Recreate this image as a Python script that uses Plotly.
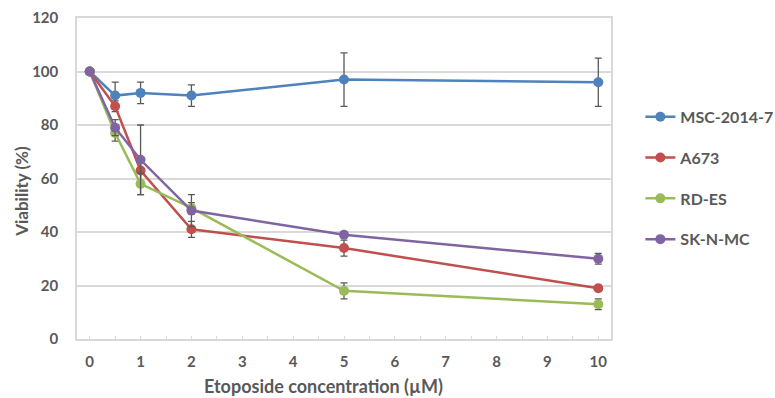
import plotly.graph_objects as go

# Etoposide dose (µM) and viability readings per cell line
conc = [0, 0.5, 1, 2, 5, 10]

cell_lines = ["MSC-2014-7", "A673", "RD-ES", "SK-N-MC"]
viability = {
    "MSC-2014-7": [100, 91, 92, 91, 97, 96],
    "A673":       [100, 87, 63, 41, 34, 19],
    "RD-ES":      [100, 77, 58, 49, 18, 13],
    "SK-N-MC":    [100, 79, 67, 48, 39, 30],
}
error = {
    "MSC-2014-7": [0, 5, 4, 4, 10, 9],
    "A673":       [0, 2, 4, 3, 3, 1],
    "RD-ES":      [0, 3, 4, 2, 3, 2],
    "SK-N-MC":    [0, 3, 13, 6, 1, 2],
}
colors = {
    "MSC-2014-7": "#4F81BD",
    "A673": "#C0504D",
    "RD-ES": "#9BBB59",
    "SK-N-MC": "#8064A2",
}

x_tickvals = [v / 2 for v in range(0, 21)]
x_ticktext = [str(int(v)) if v == int(v) else "" for v in x_tickvals]
y_tickvals = [0, 20, 40, 60, 80, 100, 120]

x_title = "Etoposide concentration (µM)"
y_title = "Viability (%)"

FONT = "Lato"
TXT = "#595959"
GRID = "#D9D9D9"

fig = go.Figure()
for name in cell_lines:
    fig.add_trace(go.Scatter(
        x=conc, y=viability[name], name=name, mode="lines+markers",
        legendgroup=name,
        line=dict(color=colors[name], width=2.5),
        marker=dict(color=colors[name], size=10),
        error_y=dict(type="data", array=error[name], color="#595959",
                     thickness=1.3, width=3.5),
    ))

# axis titles placed as paper-anchored annotations
fig.add_annotation(text=x_title, xref="paper", yref="paper",
                   x=0.462, y=-0.145, xanchor="center", yanchor="middle",
                   showarrow=False,
                   font=dict(family=FONT, size=18, color=TXT, weight="bold"))
fig.add_annotation(text=y_title, xref="paper", yref="paper",
                   x=-0.104, y=0.46, xanchor="center", yanchor="middle",
                   textangle=-90, showarrow=False,
                   font=dict(family=FONT, size=17, color=TXT, weight="bold"))

fig.update_layout(
    width=775, height=398,
    margin=dict(l=77, r=164, t=18, b=59, autoexpand=False),
    plot_bgcolor="white", paper_bgcolor="white",
    font=dict(family=FONT, color=TXT, size=15),
    showlegend=True,
    legend=dict(x=1.055, y=0.745, xanchor="left", yanchor="top",
                font=dict(family=FONT, size=16, color=TXT, weight="bold"),
                tracegroupgap=17, itemwidth=30, bgcolor="rgba(0,0,0,0)"),
    xaxis=dict(
        range=[-0.25, 10.25], tickvals=x_tickvals, ticktext=x_ticktext,
        ticks="inside", ticklen=3, tickcolor=GRID, tickwidth=1,
        showline=True, linecolor=GRID, linewidth=1.5, mirror=True,
        showgrid=False, zeroline=False, automargin=False,
        ticklabelstandoff=8,
        tickfont=dict(family=FONT, size=15, color=TXT, weight="bold"),
    ),
    yaxis=dict(
        range=[0, 120], tickvals=y_tickvals,
        showgrid=True, gridcolor=GRID, gridwidth=1.5,
        showline=True, linecolor=GRID, linewidth=1.5, mirror=True,
        zeroline=False, ticks="", automargin=False,
        ticklabelstandoff=14,
        tickfont=dict(family=FONT, size=15, color=TXT, weight="bold"),
    ),
)

fig.write_html("out.html")
